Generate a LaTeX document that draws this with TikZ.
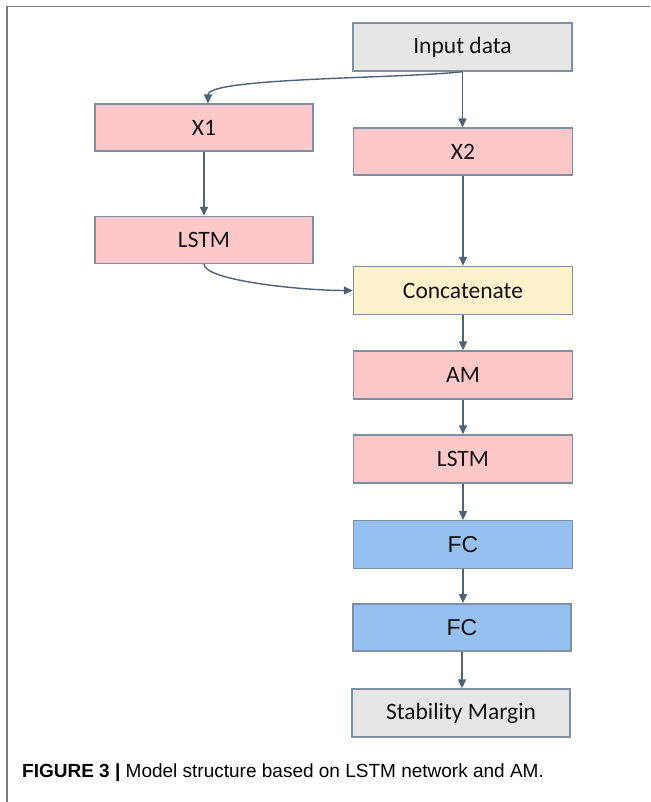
\documentclass[tikz,border=0pt]{standalone}
\usepackage{fontspec}
\setmainfont{Carlito}
\newfontfamily\capfont{Liberation Sans}
\usetikzlibrary{arrows.meta}

\definecolor{boxline}{HTML}{7F90A4}
\definecolor{arrcol}{HTML}{4F6378}
\definecolor{greyfill}{HTML}{E6E6E6}
\definecolor{pinkfill}{HTML}{FFC8C8}
\definecolor{yellowfill}{HTML}{FFF1CC}
\definecolor{bluefill}{HTML}{96C0F0}
\definecolor{framecol}{HTML}{7A7A7A}
\definecolor{txt}{HTML}{141414}

\tikzset{
  block/.style={draw=boxline, line width=1.4pt, rectangle, minimum width=219pt,
    minimum height=48pt, inner sep=0pt, text=txt,
    font=\fontsize{23.5}{27}\selectfont},
  greybox/.style={block, fill=greyfill},
  pinkbox/.style={block, fill=pinkfill},
  yellowbox/.style={block, fill=yellowfill},
  bluebox/.style={block, fill=bluefill, font=\capfont\fontsize{23}{27}\selectfont},
  arr/.style={draw=arrcol, line width=1.4pt,
    -{Triangle[length=9pt,width=8pt]}},
}

\begin{document}
\begin{tikzpicture}[x=1pt, y=-1pt]
  \fill[white] (0,0) rectangle (650,802);
  \useasboundingbox (0,0) rectangle (650,802);

  % figure frame (top and left rules)
  \draw[framecol, line width=1.5pt] (7,802) -- (7,6.5) -- (650,6.5);

  % blocks
  \node[greybox]   (inp)   at (462.5, 47)   {Input data};
  \node[pinkbox, minimum width=218pt, minimum height=47pt] (x1)    at (204, 127.7)  {X1};
  \node[pinkbox, minimum width=218pt, minimum height=47pt] (lstma) at (204, 240)    {LSTM};
  \node[pinkbox, minimum height=47pt] (x2)    at (463, 151.7)  {X2};
  \node[yellowbox] (cat)   at (463, 290.5)  {Concatenate};
  \node[pinkbox]   (am)    at (463, 375)    {AM};
  \node[pinkbox]   (lstmb) at (463, 459)    {LSTM};
  \node[bluebox]   (fc1)   at (463, 544.7)  {FC};
  \node[bluebox, minimum width=218pt, minimum height=47pt] (fc2) at (462, 627.3) {FC};
  \node[greybox, minimum width=218pt] (sm) at (461, 713) {Stability Margin};

  % connectors
  \draw[arr] (inp.south) .. controls +(-62,7) and +(0,-26) .. ([xshift=4pt]x1.north);
  \draw[arr] (inp.south) -- (inp.south |- x2.north);
  \draw[arr] (x1) -- (lstma);
  \draw[arr] (x2) -- (cat);
  \draw[arr] (lstma.south) .. controls +(0,16) and +(-53,0) .. (cat.west);
  \draw[arr] (cat) -- (am);
  \draw[arr] (am) -- (lstmb);
  \draw[arr] (lstmb) -- (fc1);
  \draw[arr] (fc1.south) -- (fc1.south |- fc2.north);
  \draw[arr] (fc2.south) -- (fc2.south |- sm.north);

  % caption
  \node[anchor=base west, inner sep=0pt, text=black,
        font=\capfont\fontsize{19}{22}\selectfont] (caption) at (22,777)
    {\textbf{FIGURE 3 |} Model structure based on LSTM network and AM.};
\end{tikzpicture}
\end{document}
